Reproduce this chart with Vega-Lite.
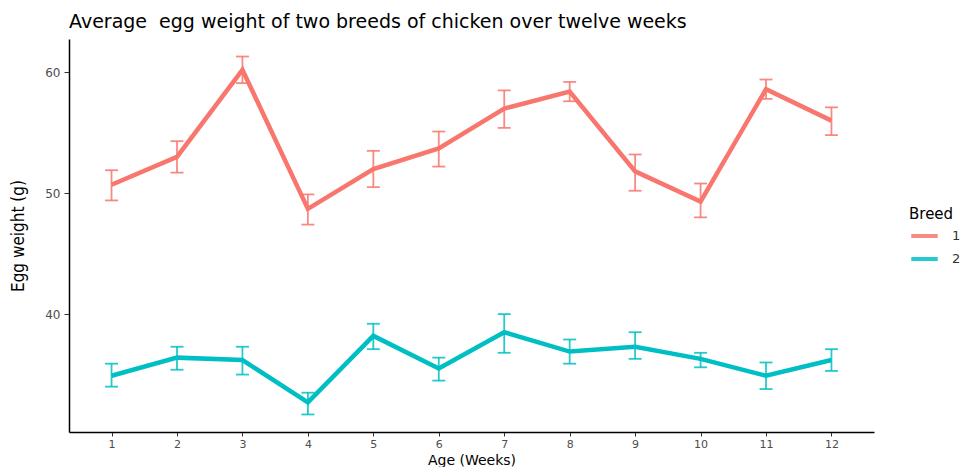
{
  "$schema": "https://vega.github.io/schema/vega-lite/v6.json",
  "width": 805,
  "height": 393,
  "autosize": "none",
  "padding": {"left": 69, "top": 39, "right": 96, "bottom": 35},
  "background": "white",
  "title": {
    "text": "Average\u00a0 egg weight of two breeds of chicken over twelve weeks",
    "anchor": "start",
    "frame": "group",
    "font": "DejaVu Sans",
    "fontSize": 19,
    "fontWeight": "normal",
    "color": "#000000",
    "offset": 7
  },
  "config": {
    "view": {"stroke": null},
    "font": "DejaVu Sans"
  },
  "data": {
    "values": [
      {"week": 1, "breed": "1", "mean": 50.7, "lo": 49.4, "hi": 51.9},
      {"week": 2, "breed": "1", "mean": 53.0, "lo": 51.7, "hi": 54.3},
      {"week": 3, "breed": "1", "mean": 60.2, "lo": 59.1, "hi": 61.3},
      {"week": 4, "breed": "1", "mean": 48.7, "lo": 47.4, "hi": 49.9},
      {"week": 5, "breed": "1", "mean": 52.0, "lo": 50.5, "hi": 53.5},
      {"week": 6, "breed": "1", "mean": 53.7, "lo": 52.2, "hi": 55.1},
      {"week": 7, "breed": "1", "mean": 57.0, "lo": 55.4, "hi": 58.5},
      {"week": 8, "breed": "1", "mean": 58.4, "lo": 57.6, "hi": 59.2},
      {"week": 9, "breed": "1", "mean": 51.8, "lo": 50.2, "hi": 53.2},
      {"week": 10, "breed": "1", "mean": 49.3, "lo": 48.0, "hi": 50.8},
      {"week": 11, "breed": "1", "mean": 58.6, "lo": 57.8, "hi": 59.4},
      {"week": 12, "breed": "1", "mean": 56.0, "lo": 54.8, "hi": 57.1},
      {"week": 1, "breed": "2", "mean": 34.9, "lo": 34.0, "hi": 35.9},
      {"week": 2, "breed": "2", "mean": 36.4, "lo": 35.4, "hi": 37.3},
      {"week": 3, "breed": "2", "mean": 36.2, "lo": 35.0, "hi": 37.3},
      {"week": 4, "breed": "2", "mean": 32.7, "lo": 31.7, "hi": 33.5},
      {"week": 5, "breed": "2", "mean": 38.2, "lo": 37.1, "hi": 39.2},
      {"week": 6, "breed": "2", "mean": 35.5, "lo": 34.5, "hi": 36.4},
      {"week": 7, "breed": "2", "mean": 38.5, "lo": 36.8, "hi": 40.0},
      {"week": 8, "breed": "2", "mean": 36.9, "lo": 35.9, "hi": 37.9},
      {"week": 9, "breed": "2", "mean": 37.3, "lo": 36.3, "hi": 38.5},
      {"week": 10, "breed": "2", "mean": 36.3, "lo": 35.6, "hi": 36.8},
      {"week": 11, "breed": "2", "mean": 34.9, "lo": 33.8, "hi": 36.0},
      {"week": 12, "breed": "2", "mean": 36.2, "lo": 35.3, "hi": 37.1}
    ]
  },
  "encoding": {
    "x": {
      "field": "week",
      "type": "quantitative",
      "scale": {"domain": [0.35, 12.65], "nice": false, "zero": false},
      "axis": {
        "title": "Age (Weeks)",
        "values": [1, 2, 3, 4, 5, 6, 7, 8, 9, 10, 11, 12],
        "grid": false,
        "domainColor": "#000000",
        "domainWidth": 1.5,
        "tickColor": "#333333",
        "tickSize": 4,
        "tickWidth": 1,
        "labelColor": "#4d4d4d",
        "labelFontSize": 11,
        "labelPadding": 2,
        "titleFontSize": 14,
        "titleFontWeight": "normal",
        "titleColor": "#000000",
        "titlePadding": 4
      }
    },
    "color": {
      "field": "breed",
      "type": "nominal",
      "scale": {"domain": ["1", "2"], "range": ["#F8766D", "#00BFC4"]},
      "legend": {
        "title": "Breed",
        "orient": "none",
        "legendX": 840,
        "legendY": 168,
        "titleFontSize": 15,
        "titleFontWeight": "normal",
        "titleColor": "#000000",
        "titlePadding": 4,
        "symbolType": "stroke",
        "symbolSize": 700,
        "symbolStrokeWidth": 4,
        "labelFontSize": 13,
        "labelColor": "#333333",
        "labelOffset": 12,
        "clipHeight": 20,
        "rowPadding": 3
      }
    }
  },
  "layer": [
    {
      "mark": {"type": "rule", "strokeWidth": 1.8, "opacity": 0.85},
      "encoding": {
        "y": {
          "field": "lo",
          "type": "quantitative",
          "scale": {"domain": [30.25, 62.75], "nice": false, "zero": false},
          "axis": {
            "title": "Egg weight (g)",
            "values": [40, 50, 60],
            "grid": false,
            "domainColor": "#000000",
            "domainWidth": 1.5,
            "tickColor": "#333333",
            "tickSize": 5,
            "tickWidth": 1,
            "labelColor": "#4d4d4d",
            "labelFontSize": 12,
            "labelPadding": 4,
            "titleFont": "DejaVu Sans Condensed",
            "titleFontSize": 17,
            "titleFontWeight": "normal",
            "titleColor": "#000000",
            "titlePadding": 17
          }
        },
        "y2": {"field": "hi"}
      }
    },
    {
      "mark": {"type": "tick", "orient": "horizontal", "thickness": 1.8, "size": 13, "opacity": 0.85},
      "encoding": {"y": {"field": "lo", "type": "quantitative"}}
    },
    {
      "mark": {"type": "tick", "orient": "horizontal", "thickness": 1.8, "size": 13, "opacity": 0.85},
      "encoding": {"y": {"field": "hi", "type": "quantitative"}}
    },
    {
      "mark": {"type": "line", "strokeWidth": 4.5},
      "encoding": {"y": {"field": "mean", "type": "quantitative"}}
    }
  ]
}
